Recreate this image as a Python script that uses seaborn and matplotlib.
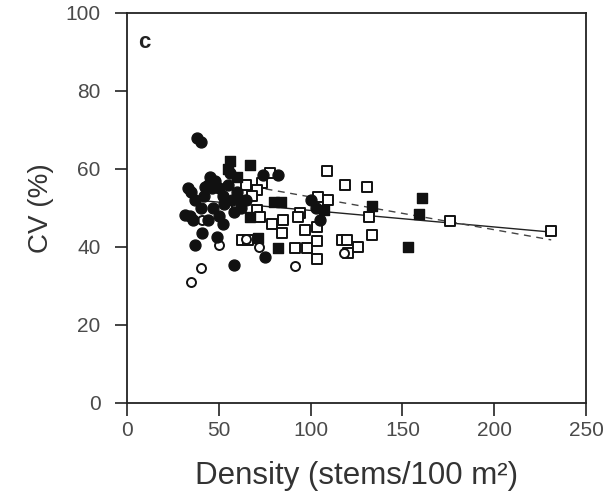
import numpy as np
import pandas as pd
import seaborn as sns
import matplotlib.pyplot as plt

# filled circles
fc_x = [38, 40, 33, 35, 34, 37, 40, 42, 44, 45, 46, 48, 50, 52, 47, 50, 53, 55, 57, 58,
        60, 62, 41, 37, 49, 58, 65, 74, 82, 75, 100, 103, 105, 44, 36, 52, 56, 31.6, 42.5]
fc_y = [68, 67, 55, 54, 48, 52, 50, 53, 56, 58, 55, 57, 55, 53, 50, 48, 51, 56, 52, 49,
        54, 50, 43.6, 40.5, 42.6, 35.4, 52, 58.5, 58.5, 37.4, 52, 50, 47, 47, 47, 46, 59, 48.2, 55.4]
# open circles
oc_x = [41, 50, 40, 35, 91.5, 72, 118, 65]
oc_y = [47, 40.5, 34.6, 31, 35, 40, 38.5, 42]
# filled squares
fs_x = [56, 55, 67, 80, 84, 71.5, 67, 82, 107, 133.5, 160.7, 159, 153, 60, 62]
fs_y = [62, 60, 61, 51.5, 51.5, 42.3, 47.7, 39.7, 49.5, 50.5, 52.5, 48.5, 40, 58, 52]
# open squares
os_x = [78, 73.5, 71, 68, 71, 72.4, 62.6, 66, 79, 85, 84.5, 91.5, 109, 118.7, 130.7, 104,
        109.5, 94, 93, 97, 103.5, 98, 103.5, 103.5, 117, 120, 120.5, 126, 132, 133.5,
        176, 231, 60, 65]
os_y = [59, 56.4, 54.6, 53, 49.5, 47.7, 41.8, 41.8, 46, 47, 43.6, 39.7, 59.5, 56, 55.4, 52.8,
        52, 48.7, 47.7, 44.4, 45, 39.7, 41.5, 37, 41.8, 41.8, 38.5, 40, 47.7, 43,
        46.7, 44, 50, 56]

# fitted lines
solid_x = [40, 231]
solid_y = [51.9, 43.8]
dash_x = [62, 231]
dash_y = [56.0, 41.8]

sns.set_style('ticks')
plt.rcParams['font.family'] = ['Liberation Sans', 'DejaVu Sans']

fig = plt.figure(figsize=(6.08, 4.98), dpi=100)
ax = fig.add_axes([0.209, 0.191, 0.755, 0.783])

sns.lineplot(x=solid_x, y=solid_y, ax=ax, color='#222222', lw=1.0)
sns.lineplot(x=dash_x, y=dash_y, ax=ax, color='#444444', lw=1.0, linestyle=(0, (5, 4)))

sns.scatterplot(x=os_x, y=os_y, ax=ax, marker='s', s=60, facecolor='white',
                edgecolor='#111111', linewidth=1.4, zorder=3)
sns.scatterplot(x=fs_x, y=fs_y, ax=ax, marker='s', s=60, color='#111111',
                edgecolor='#111111', linewidth=1.0, zorder=3)
sns.scatterplot(x=oc_x, y=oc_y, ax=ax, marker='o', s=42, facecolor='white',
                edgecolor='#111111', linewidth=1.4, zorder=4)
sns.scatterplot(x=fc_x, y=fc_y, ax=ax, marker='o', s=62, color='#111111',
                edgecolor='#111111', linewidth=1.0, zorder=4)

ax.set_xlim(0, 250)
ax.set_ylim(0, 100)
ax.set_xticks([0, 50, 100, 150, 200, 250])
ax.set_yticks([0, 20, 40, 60, 80, 100])
ax.tick_params(direction='out', length=9, width=1.2, labelsize=15, colors='#222222',
               labelcolor='#4a4a4a')
ax.tick_params(axis='x', pad=4)
ax.tick_params(axis='y', pad=10)
for s in ax.spines.values():
    s.set_linewidth(1.3)
    s.set_color('#222222')

ax.set_xlabel('Density (stems/100 m²)', fontsize=22.5, color='#333333', labelpad=15)
ax.set_ylabel('CV (%)', fontsize=20, color='#333333', labelpad=8)
ax.text(6, 91, 'c', fontsize=16, fontweight='bold', color='#222222')

fig.savefig('out.png', dpi=100)
